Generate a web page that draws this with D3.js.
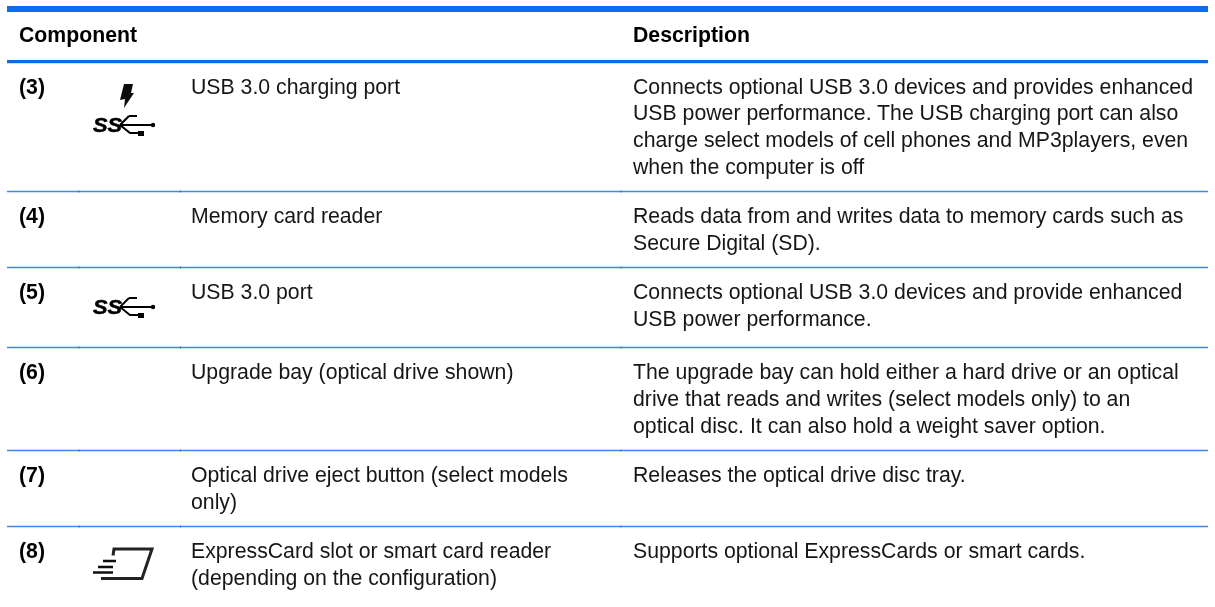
<!DOCTYPE html>
<html>
<head>
<meta charset="utf-8">
<script src="https://cdn.jsdelivr.net/npm/d3@7"></script>
<style>
  html, body { margin: 0; padding: 0; background: #fff; overflow: hidden; }
  text { font-family: "Liberation Sans", Arial, sans-serif; font-size: 21.25px; fill: #161616; }
</style>
</head>
<body>
<div id="table"></div>
<script>
// table content
var headers = ["Component", "Description"];
var rowIds = ["(3)", "(4)", "(5)", "(6)", "(7)", "(8)"];
var components = [
  ["USB 3.0 charging port"],
  ["Memory card reader"],
  ["USB 3.0 port"],
  ["Upgrade bay (optical drive shown)"],
  ["Optical drive eject button (select models", "only)"],
  ["ExpressCard slot or smart card reader", "(depending on the configuration)"]
];
var descriptions = [
  ["Connects optional USB 3.0 devices and provides enhanced", "USB power performance. The USB charging port can also", "charge select models of cell phones and MP3players, even", "when the computer is off"],
  ["Reads data from and writes data to memory cards such as", "Secure Digital (SD)."],
  ["Connects optional USB 3.0 devices and provide enhanced", "USB power performance."],
  ["The upgrade bay can hold either a hard drive or an optical", "drive that reads and writes (select models only) to an", "optical disc. It can also hold a weight saver option."],
  ["Releases the optical drive disc tray."],
  ["Supports optional ExpressCards or smart cards."]
];
var rowIcons = ["charge", "", "usb", "", "", "card"];

// set the dimensions of the page
var width = 1215, height = 607;
var blue = "#0a6cf0";

var svg = d3.select("div#table")
  .append("svg")
    .attr("width", width)
    .attr("height", height)
    .style("display", "block");

var defs = svg.append("defs");
defs.append("filter").attr("id", "soft")
  .append("feGaussianBlur").attr("stdDeviation", 0.55);
defs.append("filter").attr("id", "print")
  .append("feGaussianBlur").attr("stdDeviation", 0.3);

// row tops, the rule above each row
var rowY = d3.scaleOrdinal()
  .domain(rowIds)
  .range([62, 191.5, 267.5, 347.5, 450.5, 526.5]);

var columns = { id: 19, icon: 79, component: 191, description: 633, split: 621 };
var lineStep = 26.9, firstLine = 31.5;

// Header rules
svg.append("rect").attr("x", 7).attr("y", 6).attr("width", 1201).attr("height", 6).attr("fill", blue);
svg.append("rect").attr("x", 7).attr("y", 60).attr("width", 1201).attr("height", 3.2).attr("fill", blue);

// Row rules
svg.selectAll("line.rule")
  .data(rowIds.slice(1))
  .join("line")
    .attr("class", "rule")
    .attr("x1", 7)
    .attr("x2", 1208)
    .attr("y1", d => rowY(d))
    .attr("y2", d => rowY(d))
    .attr("stroke", "#3f86ee")
    .attr("stroke-width", 1.3);

// little joints where the cell borders meet the rules
rowIds.slice(1).forEach(function(id) {
  [columns.icon, 180.5, columns.split].forEach(function(x) {
    svg.append("line")
      .attr("x1", x).attr("x2", x)
      .attr("y1", rowY(id) - 1).attr("y2", rowY(id) + 1)
      .attr("stroke", "#1d5fbf").attr("stroke-width", 0.8);
  });
});

var content = svg.append("g").attr("filter", "url(#print)");

// Header text
content.selectAll("text.head")
  .data(headers)
  .join("text")
    .attr("class", "head")
    .attr("x", (d, i) => i == 0 ? columns.id : columns.description)
    .attr("y", 41.5)
    .style("font-weight", "bold")
    .style("fill", "#000")
    .text(d => d);

// Rows
var rows = content.selectAll("g.row")
  .data(rowIds)
  .join("g")
    .attr("class", "row")
    .attr("transform", d => "translate(0," + rowY(d) + ")");

rows.append("text")
  .attr("x", columns.id)
  .attr("y", firstLine)
  .style("font-weight", "bold")
  .style("fill", "#000")
  .text(d => d);

function addLines(sel, x, lines) {
  sel.selectAll("text.cell")
    .data(lines)
    .join("text")
      .attr("class", "cell")
      .attr("x", x)
      .attr("y", (d, i) => firstLine + i * lineStep)
      .text(d => d);
}

rows.each(function(d, i) {
  var g = d3.select(this);
  addLines(g.append("g"), columns.component, components[i]);
  addLines(g.append("g"), columns.description, descriptions[i]);
});

// Icons
function usbIcon(g, weight) {
  g.append("text")
    .attr("x", 0).attr("y", 0)
    .attr("textLength", 29)
    .attr("lengthAdjust", "spacingAndGlyphs")
    .style("font-size", "20px").style("font-weight", "bold").style("font-style", "italic").style("fill", "#000")
    .style("stroke", "#000").style("stroke-width", 0.5)
    .text("SS");
  g.append("path")
    .attr("d", "M36,-16 L44,-16 M27,-7 L36,-16 M27,-7 L60,-7 M27,-7 L37,1 L46,1")
    .attr("fill", "none").attr("stroke", "#000").attr("stroke-width", weight);
  g.append("circle").attr("cx", 60).attr("cy", -7).attr("r", 2.2).attr("fill", "#000");
  g.append("rect").attr("x", 45).attr("y", -1).attr("width", 6).attr("height", 5).attr("fill", "#000");
}

rows.filter((d, i) => rowIcons[i] == "charge").each(function() {
  var g = d3.select(this).append("g").attr("filter", "url(#soft)");
  g.append("path")
    .attr("d", "M124,22 L133,22 L131,31 L134,31 L124,46 L125,37 L120,38 Z")
    .attr("fill", "#111");
  usbIcon(g.append("g").attr("transform", "translate(93,70)"), 2.2);
});

rows.filter((d, i) => rowIcons[i] == "usb").each(function() {
  usbIcon(d3.select(this).append("g")
    .attr("filter", "url(#soft)")
    .attr("transform", "translate(93,46.5)"), 1.8);
});

rows.filter((d, i) => rowIcons[i] == "card").each(function() {
  var g = d3.select(this).append("g").attr("filter", "url(#soft)");
  g.append("path")
    .attr("d", "M113,29 L114,22.5 L152,22.5 L142,52 L101,52")
    .attr("fill", "none").attr("stroke", "#222").attr("stroke-width", 3);
  g.append("path")
    .attr("d", "M103,34.5 L116,34.5 M98,40.5 L113,40.5 M93,46 L113,46")
    .attr("fill", "none").attr("stroke", "#111").attr("stroke-width", 2.6);
});
</script>
</body>
</html>
